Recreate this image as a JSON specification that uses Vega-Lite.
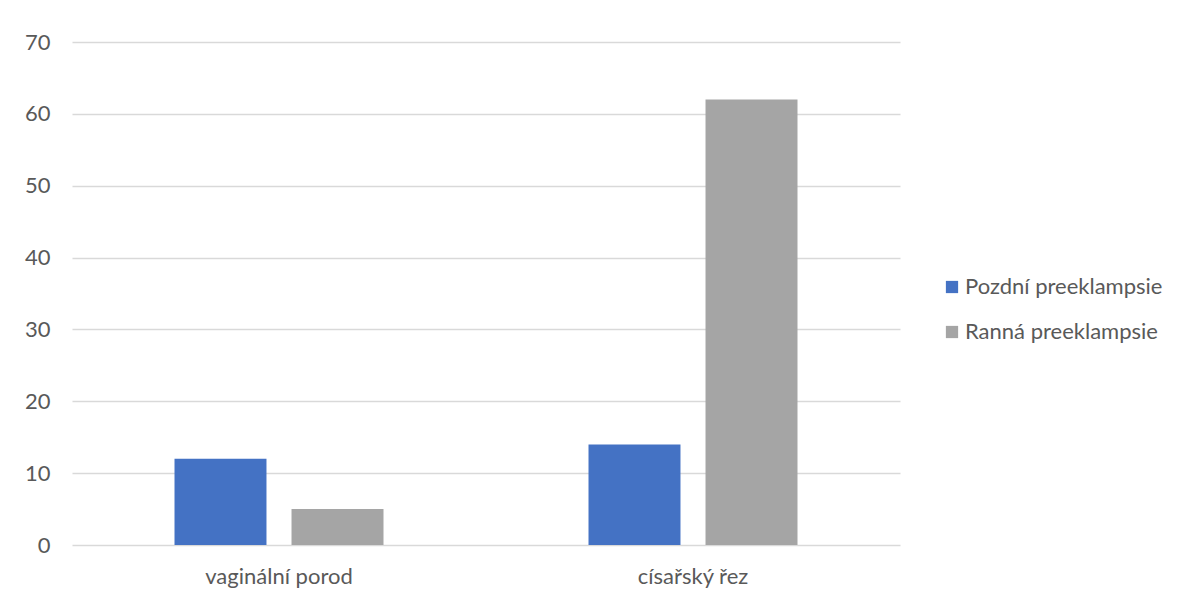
{
  "$schema": "https://vega.github.io/schema/vega-lite/v6.json",
  "width": 828,
  "height": 503,
  "autosize": "none",
  "padding": {"left": 72, "top": 42, "right": 279, "bottom": 54},
  "background": "white",
  "data": {
    "values": [
      {"porod": "vaginální porod", "typ": "Pozdní preeklampsie", "pocet": 12},
      {"porod": "vaginální porod", "typ": "Ranná preeklampsie", "pocet": 5},
      {"porod": "císařský řez", "typ": "Pozdní preeklampsie", "pocet": 14},
      {"porod": "císařský řez", "typ": "Ranná preeklampsie", "pocet": 62}
    ]
  },
  "mark": {"type": "bar"},
  "encoding": {
    "x": {
      "field": "porod",
      "type": "nominal",
      "sort": ["vaginální porod", "císařský řez"],
      "scale": {"paddingInner": 0, "paddingOuter": 0},
      "axis": {"title": null, "labelAngle": 0, "ticks": false, "domain": false, "labelPadding": 21, "labelFontSize": 22, "labelColor": "#595959", "labelFont": "Lato"}
    },
    "xOffset": {
      "field": "typ",
      "type": "nominal",
      "scale": {"paddingInner": 0.214, "paddingOuter": 0.876}
    },
    "y": {
      "field": "pocet",
      "type": "quantitative",
      "scale": {"domain": [0, 70]},
      "axis": {"title": null, "values": [0,10,20,30,40,50,60,70], "labelOverlap": false, "ticks": false, "domain": false, "labelPadding": 22, "labelFontSize": 22, "labelColor": "#595959", "labelFont": "Lato", "gridColor": "#d9d9d9", "gridWidth": 1.3}
    },
    "color": {
      "field": "typ",
      "type": "nominal",
      "scale": {"domain": ["Pozdní preeklampsie", "Ranná preeklampsie"], "range": ["#4472C4", "#A5A5A5"]},
      "legend": {"title": null, "orient": "none", "legendX": 869, "legendY": 234, "symbolType": "square", "symbolSize": 150, "symbolStrokeWidth": 0, "labelFontSize": 22, "labelColor": "#595959", "labelFont": "Lato", "labelLimit": 300, "rowPadding": 23, "labelOffset": 2}
    }
  },
  "config": {"view": {"stroke": null}}
}
